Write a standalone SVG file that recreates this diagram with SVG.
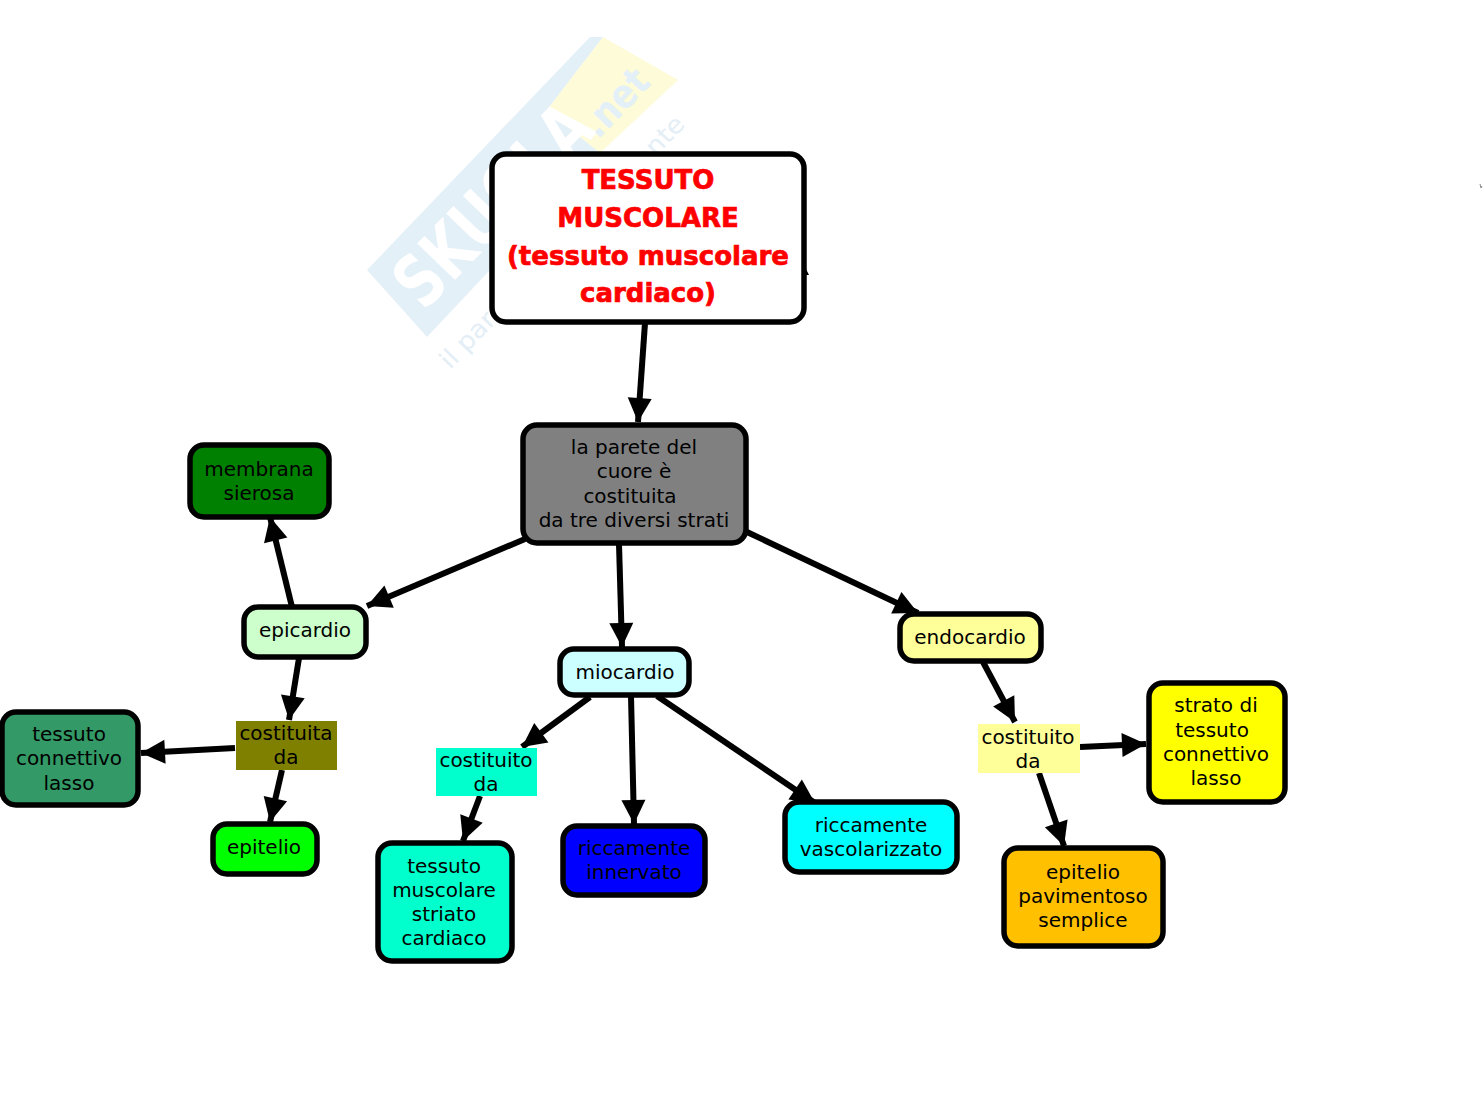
<svg xmlns="http://www.w3.org/2000/svg" width="1483" height="1116" viewBox="0 0 1483 1116">
<style>
text{font-family:"DejaVu Sans","Verdana",sans-serif;font-size:20px;fill:#000;text-anchor:middle}
.title{font-weight:bold;font-size:26px;fill:#f00;stroke:#f00;stroke-width:.7}
.n{stroke:#000;stroke-width:5.5}
.c{stroke:#000;stroke-width:6;fill:none;marker-end:url(#a)}
.wm{text-anchor:start}
</style>
<defs><marker id="a" markerUnits="userSpaceOnUse" markerWidth="28" markerHeight="28" refX="26" refY="14" orient="auto"><path d="M2 2L26 14L2 26Z" fill="#000"/></marker></defs>
<rect width="1483" height="1116" fill="#fff"/>
<g id="watermark">
<path d="M367 270L590 37L603 37L547 110L600 153L427 337Z" fill="#e4f0f8"/>
<path d="M547 110L603 37L678 80L600 153Z" fill="#fdfbd8"/>
<text class="wm" transform="translate(424 312) rotate(-46)" style="font-size:72px;font-weight:bold;fill:#fff" textLength="250" lengthAdjust="spacingAndGlyphs">SKUOLA</text>
<text class="wm" transform="translate(598 140) rotate(-46)" style="font-size:40px;font-weight:bold;fill:#e4f0f8" textLength="78" lengthAdjust="spacingAndGlyphs">.net</text>
<text class="wm" transform="translate(450 370) rotate(-46)" style="font-size:25px;fill:#e4eef6" textLength="340" lengthAdjust="spacingAndGlyphs">il paradiso dello studente</text>
</g>
<g id="connectors">
<path class="c" d="M645 323L638 422"/>
<path class="c" d="M525 539L367 606"/>
<path class="c" d="M619 544L622 647"/>
<path class="c" d="M747 532L918 613"/>
<path class="c" d="M292 607L270 517"/>
<path class="c" d="M299 658L289 720"/>
<path class="c" d="M235 748L141 753"/>
<path class="c" d="M282 770L270 822"/>
<path class="c" d="M590 697L522 747"/>
<path class="c" d="M480 796L463 841"/>
<path class="c" d="M631 696L634 824"/>
<path class="c" d="M657 696L815 803"/>
<path class="c" d="M983 662L1015 722"/>
<path class="c" d="M1080 747L1146 744"/>
<path class="c" d="M1039 773L1064 846"/>
<path d="M805 267L809 275L805 275Z" fill="#000"/>
<path d="M1480 184L1481 188L1482 186" stroke="#888" stroke-width="1" fill="none"/>
</g>
<g id="n-titolo"><rect class="n" x="492" y="154" width="312" height="168" rx="14" fill="#fff"/><text class="title" x="648" y="189">TESSUTO</text><text class="title" x="648" y="227">MUSCOLARE</text><text class="title" x="648" y="265">(tessuto muscolare</text><text class="title" x="648" y="302">cardiaco)</text></g>
<g id="n-parete"><rect class="n" x="523" y="425" width="223" height="118" rx="14" fill="#808080"/><text x="634" y="454">la parete del</text><text x="634" y="478">cuore è</text><text x="630" y="503">costituita</text><text x="634" y="527">da tre diversi strati</text></g>
<g id="n-membrana"><rect class="n" x="190" y="445" width="139" height="72" rx="14" fill="#008000"/><text x="259" y="476">membrana</text><text x="259" y="500">sierosa</text></g>
<g id="n-epicardio"><rect class="n" x="244" y="607" width="122" height="50" rx="14" fill="#ccffcc"/><text x="305" y="637">epicardio</text></g>
<g id="n-miocardio"><rect class="n" x="560" y="649" width="129" height="46" rx="14" fill="#ccffff"/><text x="625" y="679">miocardio</text></g>
<g id="n-endocardio"><rect class="n" x="900" y="614" width="141" height="47" rx="14" fill="#ffff99"/><text x="970" y="644">endocardio</text></g>
<g id="n-costituita"><rect x="236" y="721" width="101" height="49" fill="#808000"/><text x="286" y="740">costituita</text><text x="286" y="764">da</text></g>
<g id="n-connettivo1"><rect class="n" x="2" y="712" width="136" height="93" rx="14" fill="#339966"/><text x="69" y="741">tessuto</text><text x="69" y="765">connettivo</text><text x="69" y="790">lasso</text></g>
<g id="n-epitelio"><rect class="n" x="213" y="824" width="104" height="50" rx="14" fill="#00ff00"/><text x="264" y="854">epitelio</text></g>
<g id="n-costituito1"><rect x="436" y="748" width="101" height="48" fill="#00ffcc"/><text x="486" y="767">costituito</text><text x="486" y="791">da</text></g>
<g id="n-striato"><rect class="n" x="378" y="843" width="134" height="118" rx="14" fill="#00ffcc"/><text x="444" y="873">tessuto</text><text x="444" y="897">muscolare</text><text x="444" y="921">striato</text><text x="444" y="945">cardiaco</text></g>
<g id="n-innervato"><rect class="n" x="563" y="826" width="142" height="69" rx="14" fill="#0000ff"/><text x="634" y="855">riccamente</text><text x="634" y="879">innervato</text></g>
<g id="n-vascolarizzato"><rect class="n" x="785" y="802" width="172" height="70" rx="14" fill="#00ffff"/><text x="871" y="832">riccamente</text><text x="871" y="856">vascolarizzato</text></g>
<g id="n-costituito2"><rect x="978" y="724" width="102" height="49" fill="#ffff99"/><text x="1028" y="744">costituito</text><text x="1028" y="768">da</text></g>
<g id="n-connettivo2"><rect class="n" x="1149" y="683" width="136" height="119" rx="14" fill="#ffff00"/><text x="1216" y="712">strato di</text><text x="1212" y="737">tessuto</text><text x="1216" y="761">connettivo</text><text x="1216" y="785">lasso</text></g>
<g id="n-pavimentoso"><rect class="n" x="1004" y="848" width="159" height="98" rx="14" fill="#ffc000"/><text x="1083" y="879">epitelio</text><text x="1083" y="903">pavimentoso</text><text x="1083" y="927">semplice</text></g>
</svg>
